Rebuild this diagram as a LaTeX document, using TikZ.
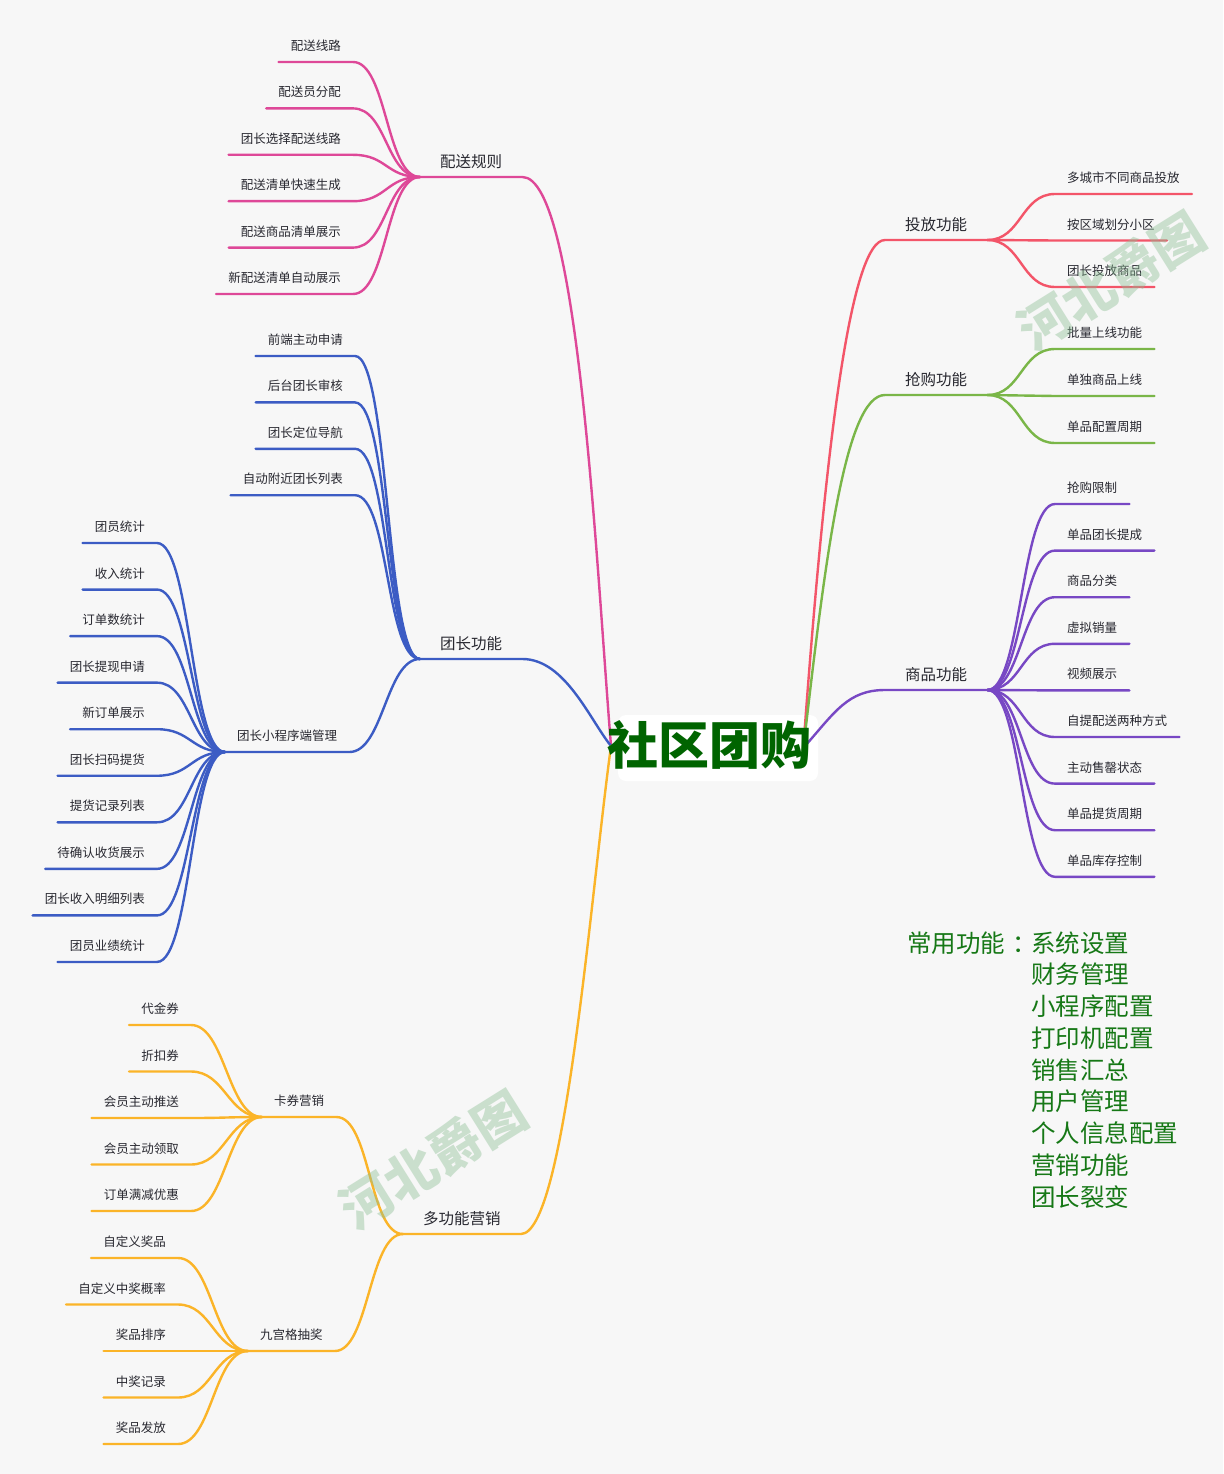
\documentclass[tikz,border=0pt]{standalone}
\usepackage{fontspec}
\setmainfont{Noto Sans CJK SC}
\usetikzlibrary{positioning}
\definecolor{paper}{RGB}{247,247,247}
\definecolor{txt}{RGB}{40,40,48}
\definecolor{pinkbr}{RGB}{222,72,152}
\definecolor{redbr}{RGB}{243,85,105}
\definecolor{greenbr}{RGB}{122,182,72}
\definecolor{bluebr}{RGB}{60,92,196}
\definecolor{purplebr}{RGB}{120,72,196}
\definecolor{orangebr}{RGB}{251,180,40}
\definecolor{titlegreen}{RGB}{0,100,0}
\definecolor{notegreen}{RGB}{22,120,22}
\definecolor{wmark}{RGB}{140,190,148}

\begin{document}
\begin{tikzpicture}[x=1pt,y=-1pt,
  br/.style={line width=2.4pt,line cap=round},
  tree/.style={to path={.. controls +(34,0) and +(-34,0) .. (\tikztotarget)}},
  leaf/.style={font=\fontsize{12.5}{14}\selectfont,text=txt,inner xsep=12pt,inner ysep=0pt,text depth=11.3pt},
  topic/.style={font=\fontsize{15.5}{18}\selectfont,text=txt,inner xsep=20pt,inner ysep=0pt,text depth=9pt},
  note/.style={font=\fontsize{24.5}{28}\selectfont,text=notegreen,inner sep=0pt,anchor=base west},
  wm/.style={font=\fontsize{52}{52}\selectfont\bfseries,text=wmark,opacity=0.42,rotate=32,inner sep=0pt}]
\fill[paper] (0,0) rectangle (1223,1474);
\useasboundingbox (0,0) rectangle (1223,1474);
\fill[white,rounded corners=8pt] (618,715) rectangle (818,781);
\coordinate (cl) at (611,746);
\coordinate (cr) at (803,752);

% left: 配送规则
\node[topic,anchor=south west] (ps) at (420,177) {配送规则};
\draw[br,pinkbr] (ps.south west) -- (ps.south east) .. controls (578,177) and (596,560) .. (cl);
\foreach \t [count=\i] in {配送线路,配送员分配,团长选择配送线路,配送清单快速生成,配送商品清单展示,新配送清单自动展示}{
  \node[leaf,anchor=south east] (ps\i) at (353,{62+46.4*(\i-1)}) {\t};
  \draw[br,pinkbr] (ps\i.south west) -- (ps\i.south east) to[tree] (ps.south west);
}

% left: 团长功能
\node[topic,anchor=south west] (tz) at (420,659) {团长功能};
\draw[br,bluebr] (tz.south west) -- (tz.south east) .. controls (565,659) and (590,720) .. (cl);
\foreach \t [count=\i] in {前端主动申请,后台团长审核,团长定位导航,自动附近团长列表}{
  \node[leaf,anchor=south east] (tz\i) at (355,{356+46.4*(\i-1)}) {\t};
  \draw[br,bluebr] (tz\i.south west) -- (tz\i.south east) to[tree] (tz.south west);
}
\node[leaf,anchor=south west] (xcx) at (225,752) {团长小程序端管理};
\draw[br,bluebr] (xcx.south west) -- (xcx.south east) to[tree] (tz.south west);
\foreach \t [count=\i] in {团员统计,收入统计,订单数统计,团长提现申请,新订单展示,团长扫码提货,提货记录列表,待确认收货展示,团长收入明细列表,团员业绩统计}{
  \node[leaf,anchor=south east] (xcx\i) at (157,{543+46.55*(\i-1)}) {\t};
  \draw[br,bluebr] (xcx\i.south west) -- (xcx\i.south east) to[tree] (xcx.south west);
}

% left: 多功能营销
\node[topic,anchor=south west] (dg) at (403,1234) {多功能营销};
\draw[br,orangebr] (dg.south west) -- (dg.south east) .. controls (565,1234) and (590,900) .. (cl);
\node[leaf,anchor=south west] (kq) at (262,1117) {卡券营销};
\node[leaf,anchor=south west] (jg) at (248,1351) {九宫格抽奖};
\foreach \a in {kq,jg}
  \draw[br,orangebr] (\a.south west) -- (\a.south east) to[tree] (dg.south west);
\foreach \t [count=\i] in {代金券,折扣券,会员主动推送,会员主动领取,订单满减优惠}{
  \node[leaf,anchor=south east] (kq\i) at (191,{1025+46.5*(\i-1)}) {\t};
  \draw[br,orangebr] (kq\i.south west) -- (kq\i.south east) to[tree] (kq.south west);
}
\foreach \t [count=\i] in {自定义奖品,自定义中奖概率,奖品排序,中奖记录,奖品发放}{
  \node[leaf,anchor=south east] (jg\i) at (178,{1258+46.5*(\i-1)}) {\t};
  \draw[br,orangebr] (jg\i.south west) -- (jg\i.south east) to[tree] (jg.south west);
}

% right: 投放功能
\node[topic,anchor=south west] (tf) at (885,240) {投放功能};
\draw[br,redbr] (cr) .. controls (825,450) and (850,240) .. (tf.south west) -- (tf.south east);
\foreach \t [count=\i] in {多城市不同商品投放,按区域划分小区,团长投放商品}{
  \node[leaf,anchor=south west] (tf\i) at (1055,{194+46.5*(\i-1)}) {\t};
  \draw[br,redbr] (tf.south east) to[tree] (tf\i.south west) -- (tf\i.south east);
}

% right: 抢购功能
\node[topic,anchor=south west] (qg) at (885,395) {抢购功能};
\draw[br,greenbr] (cr) .. controls (825,560) and (845,395) .. (qg.south west) -- (qg.south east);
\foreach \t [count=\i] in {批量上线功能,单独商品上线,单品配置周期}{
  \node[leaf,anchor=south west] (qg\i) at (1055,{349+47*(\i-1)}) {\t};
  \draw[br,greenbr] (qg.south east) to[tree] (qg\i.south west) -- (qg\i.south east);
}

% right: 商品功能
\node[topic,anchor=south west] (sp) at (885,690) {商品功能};
\draw[br,purplebr] (805,746) .. controls (835,712) and (848,690) .. (sp.south west) -- (sp.south east);
\foreach \t [count=\i] in {抢购限制,单品团长提成,商品分类,虚拟销量,视频展示,自提配送两种方式,主动售罄状态,单品提货周期,单品库存控制}{
  \node[leaf,anchor=south west] (sp\i) at (1055,{504+46.6*(\i-1)}) {\t};
  \draw[br,purplebr] (sp.south east) to[tree] (sp\i.south west) -- (sp\i.south east);
}

% center
\node[font=\fontsize{51}{51}\selectfont\bfseries,text=titlegreen,inner sep=0pt,anchor=base] (c) at (709,764) {社区团购};

% common functions
\node[note] (cf) at (907,952) {常用功能\hspace{0.3em}：};
\foreach \t [count=\i] in {系统设置,财务管理,小程序配置,打印机配置,销售汇总,用户管理,个人信息配置,营销功能,团长裂变}
  \node[note] (cf\i) at (1031,{952+31.75*(\i-1)}) {\t};

% watermarks
\node[wm] (wm1) at (1111,281) {河北爵图};
\node[wm] (wm2) at (433,1160) {河北爵图};
\end{tikzpicture}
\end{document}
